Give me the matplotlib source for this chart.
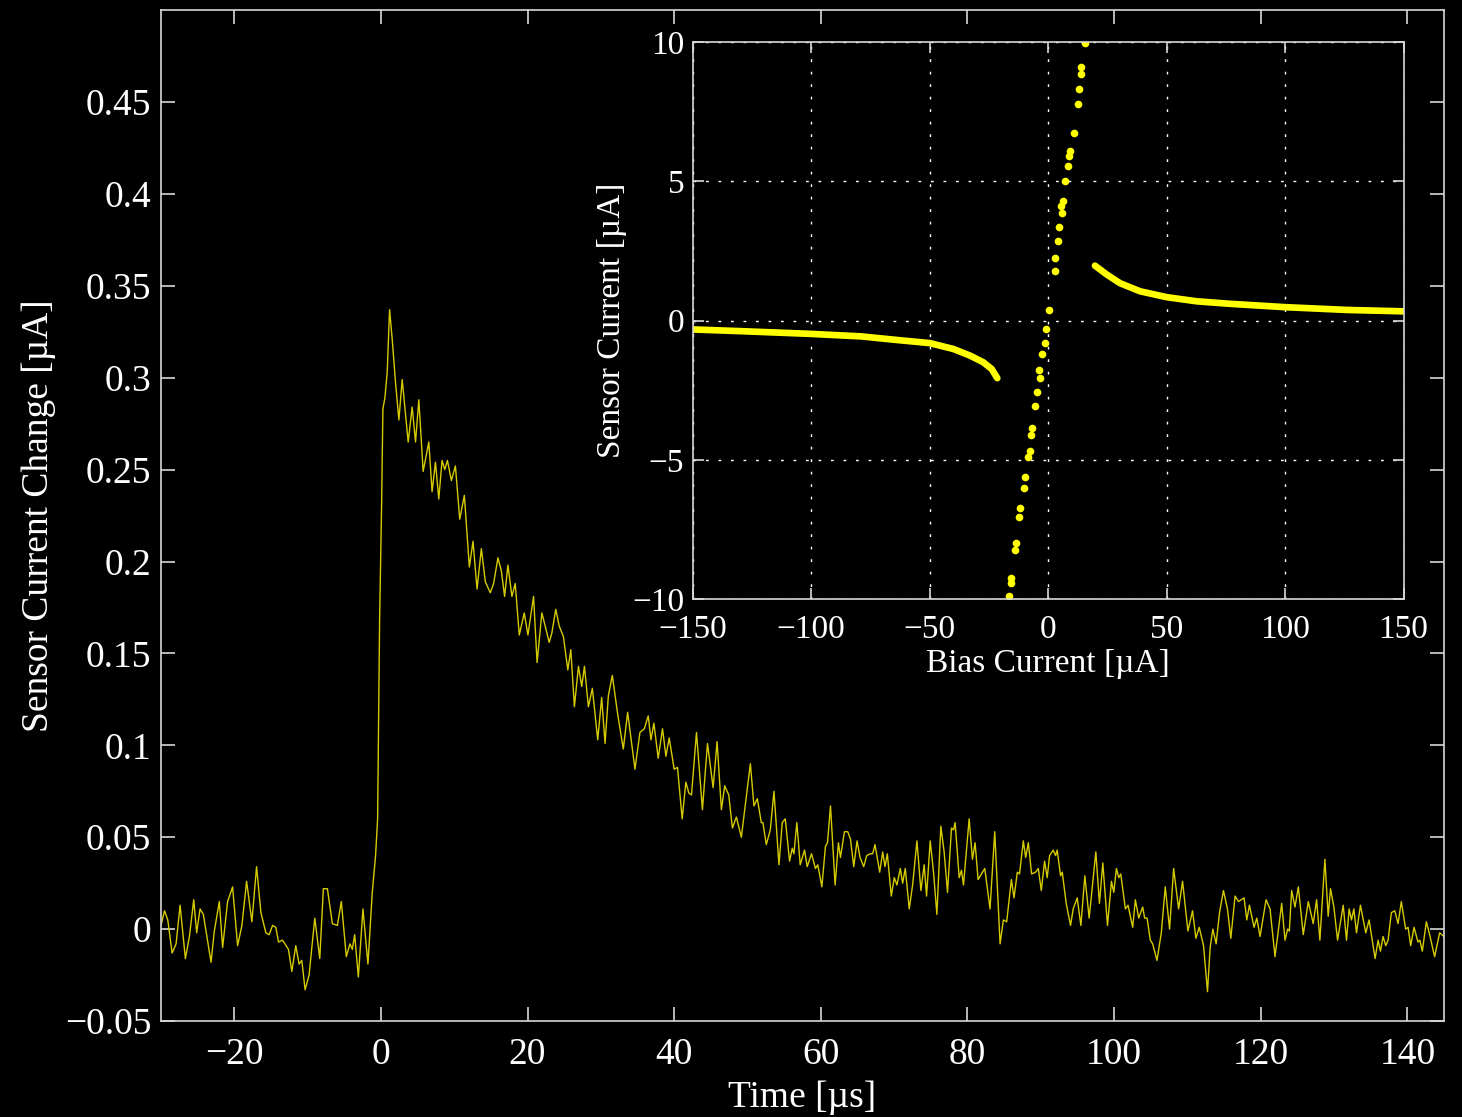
import matplotlib.pyplot as plt

plt.rcParams['font.family'] = ['Liberation Serif', 'DejaVu Serif']
plt.rcParams['axes.unicode_minus'] = True

# MAIN TRACE: time [us] and current change [uA]
time_us = [
    -30.0, -29.52, -29.07, -28.48, -27.94, -27.39, -26.67, -26.12, -25.53, -25.13,
    -24.67, -24.22, -23.17, -22.72, -22.04, -21.59, -20.91, -20.23, -19.55, -18.96,
    -18.32, -17.60, -16.96, -16.37, -15.69, -15.24, -14.78, -14.33, -13.97, -13.42,
    -12.61, -12.15, -11.61, -11.16, -10.79, -10.34, -9.80, -9.02, -8.34, -7.85,
    -7.30, -6.62, -5.94, -5.40, -4.72, -4.22, -3.90, -3.58, -3.08, -2.45,
    -1.77, -1.18, -0.73, -0.45, -0.18, 0.09, 0.27, 0.54, 0.86, 1.18,
    1.54, 2.00, 2.45, 2.90, 3.72, 4.26, 4.72, 5.17, 5.76, 6.53,
    6.98, 7.44, 7.89, 8.34, 8.71, 9.07, 9.61, 10.16, 10.75, 11.38,
    12.06, 12.56, 13.11, 13.70, 14.24, 14.92, 15.37, 15.96, 16.42, 16.87,
    17.32, 17.87, 18.32, 18.87, 19.55, 20.05, 20.82, 21.30, 21.95, 22.40,
    22.95, 23.31, 23.85, 24.31, 24.90, 25.49, 25.90, 26.39, 26.94, 27.39,
    27.76, 28.30, 28.84, 29.57, 30.11, 30.57, 31.02, 31.56, 32.29, 33.06,
    33.65, 34.65, 35.33, 35.92, 36.46, 36.83, 37.23, 37.82, 38.41, 38.87,
    39.32, 40.00, 40.45, 41.09, 41.59, 42.00, 42.36, 43.04, 43.85, 44.54,
    45.31, 45.85, 46.44, 46.89, 47.44, 47.94, 48.48, 49.16, 50.39, 50.88,
    51.34, 51.88, 52.10, 52.56, 53.11, 53.61, 54.29, 54.74, 55.15, 55.74,
    56.10, 56.33, 56.73, 57.19, 57.78, 58.14, 58.73, 59.27, 59.59, 60.14,
    60.63, 60.91, 61.32, 61.95, 62.40, 62.68, 63.22, 63.67, 64.04, 64.49,
    64.94, 65.35, 65.85, 66.26, 66.71, 67.07, 67.39, 68.03, 68.44, 68.75,
    69.07, 69.61, 70.02, 70.38, 70.84, 71.16, 71.52, 72.06, 72.52, 73.11,
    73.65, 74.10, 74.42, 74.92, 75.37, 75.83, 76.37, 76.82, 77.28, 77.82,
    78.10, 78.32, 78.87, 79.18, 79.46, 80.23, 80.68, 81.04, 81.45, 81.90,
    82.36, 83.08, 83.72, 84.45, 84.90, 85.35, 85.99, 86.35, 86.80, 87.10,
    87.62, 87.94, 88.30, 88.75, 89.30, 89.66, 90.07, 90.52, 90.88, 91.20,
    91.70, 92.02, 92.24, 92.70, 92.93, 93.47, 94.06, 94.42, 94.97, 95.47,
    96.01, 96.60, 97.51, 98.00, 98.46, 99.10, 99.64, 99.96, 100.32, 100.64,
    100.91, 101.54, 101.90, 102.54, 102.90, 103.36, 103.90, 104.17, 104.50, 104.94,
    105.26, 105.85, 106.44, 106.98, 107.57, 108.12, 108.80, 109.34, 110.07, 110.70,
    111.16, 111.61, 112.20, 112.74, 113.10, 113.47, 113.92, 114.38, 114.92, 115.46,
    115.92, 116.50, 116.96, 117.73, 118.10, 118.46, 119.09, 119.46, 119.91, 120.73,
    121.27, 121.95, 122.86, 123.31, 123.67, 123.90, 124.22, 124.67, 125.13, 125.80,
    126.49, 127.16, 127.62, 128.07, 128.75, 129.20, 129.52, 129.98, 130.48, 131.25,
    131.70, 132.06, 132.38, 132.70, 133.06, 133.60, 134.33, 134.78, 135.60, 136.01,
    136.33, 136.69, 137.05, 137.37, 137.82, 138.28, 138.73, 139.18, 139.77, 140.10,
    140.45, 140.91, 141.45, 141.70, 142.04, 142.59, 143.04, 143.72, 144.40, 145.00,
]
current_change = [
    0.002, 0.010, 0.005, -0.013, -0.008, 0.013, -0.016, -0.004, 0.016, -0.002,
    0.011, 0.008, -0.018, -0.001, 0.015, -0.010, 0.015, 0.023, -0.009, 0.002,
    0.026, 0.004, 0.034, 0.009, -0.002, -0.003, 0.002, 0.001, -0.007, -0.006,
    -0.011, -0.023, -0.009, -0.019, -0.017, -0.033, -0.025, 0.006, -0.016, 0.022,
    0.022, 0.003, 0.002, 0.015, -0.015, -0.008, -0.011, -0.003, -0.026, 0.011,
    -0.019, 0.020, 0.040, 0.060, 0.168, 0.230, 0.283, 0.289, 0.303, 0.337,
    0.321, 0.297, 0.277, 0.299, 0.265, 0.284, 0.265, 0.288, 0.249, 0.265,
    0.238, 0.254, 0.234, 0.255, 0.250, 0.255, 0.244, 0.252, 0.223, 0.236,
    0.197, 0.211, 0.185, 0.207, 0.189, 0.183, 0.188, 0.202, 0.195, 0.181,
    0.198, 0.181, 0.188, 0.160, 0.172, 0.160, 0.181, 0.145, 0.172, 0.165,
    0.156, 0.161, 0.174, 0.165, 0.159, 0.141, 0.152, 0.121, 0.143, 0.132,
    0.143, 0.121, 0.131, 0.103, 0.126, 0.101, 0.127, 0.138, 0.117, 0.098,
    0.118, 0.087, 0.107, 0.109, 0.116, 0.103, 0.112, 0.093, 0.109, 0.094,
    0.104, 0.087, 0.088, 0.060, 0.080, 0.074, 0.073, 0.107, 0.065, 0.101,
    0.077, 0.102, 0.065, 0.078, 0.073, 0.055, 0.061, 0.050, 0.090, 0.067,
    0.071, 0.058, 0.058, 0.046, 0.054, 0.075, 0.035, 0.058, 0.060, 0.037,
    0.044, 0.041, 0.058, 0.035, 0.043, 0.034, 0.041, 0.033, 0.035, 0.023,
    0.045, 0.047, 0.067, 0.024, 0.047, 0.039, 0.053, 0.053, 0.049, 0.034,
    0.048, 0.039, 0.034, 0.040, 0.041, 0.041, 0.046, 0.031, 0.042, 0.034,
    0.041, 0.018, 0.028, 0.024, 0.033, 0.025, 0.033, 0.011, 0.024, 0.048,
    0.021, 0.035, 0.018, 0.048, 0.031, 0.008, 0.056, 0.042, 0.020, 0.055,
    0.054, 0.058, 0.028, 0.032, 0.024, 0.060, 0.038, 0.047, 0.027, 0.030,
    0.033, 0.011, 0.053, -0.008, 0.005, 0.004, 0.027, 0.017, 0.031, 0.030,
    0.048, 0.039, 0.047, 0.030, 0.031, 0.033, 0.021, 0.037, 0.028, 0.040,
    0.043, 0.040, 0.043, 0.029, 0.031, 0.014, 0.002, 0.011, 0.017, 0.002,
    0.029, 0.006, 0.042, 0.014, 0.036, 0.002, 0.026, 0.020, 0.033, 0.028,
    0.030, 0.011, 0.013, 0.001, 0.016, 0.006, 0.012, 0.006, 0.006, -0.006,
    -0.008, -0.017, -0.002, 0.023, 0.000, 0.033, 0.011, 0.026, -0.001, 0.010,
    -0.005, 0.001, -0.009, -0.034, -0.010, 0.000, -0.008, 0.009, 0.021, 0.011,
    -0.005, 0.018, 0.015, 0.017, 0.005, 0.013, 0.001, 0.006, -0.004, 0.016,
    0.011, -0.015, 0.014, -0.006, 0.000, -0.001, 0.021, 0.012, 0.023, -0.003,
    0.015, 0.003, 0.016, -0.006, 0.038, 0.007, 0.022, 0.012, -0.006, 0.013,
    -0.006, 0.011, 0.005, 0.011, -0.002, 0.013, -0.002, 0.005, -0.016, -0.006,
    -0.012, -0.004, -0.009, -0.006, 0.009, 0.010, 0.003, 0.015, 0.000, 0.001,
    -0.009, 0.001, -0.007, -0.006, -0.012, 0.004, -0.003, -0.015, -0.002, -0.004,
]

main_xticks = [-20, 0, 20, 40, 60, 80, 100, 120, 140]
main_yticks = [-0.05, 0, 0.05, 0.1, 0.15, 0.2, 0.25, 0.3, 0.35, 0.4, 0.45]
main_ylabels = ["\u22120.05", "0", "0.05", "0.1", "0.15", "0.2", "0.25",
                "0.3", "0.35", "0.4", "0.45"]

# INSET: I-V curve, bias current vs sensor current [uA]
neg_bias = [-150, -130.2, -100, -78.8, -64.8, -50, -40, -32.9, -27.3, -23.8, -21.4]
neg_sensor = [-0.32, -0.38, -0.48, -0.57, -0.69, -0.81, -1.02, -1.26, -1.50, -1.74, -2.07]

pos_bias = [19.8, 24.8, 30.4, 38.8, 50, 62.7, 76.8, 100, 126.1, 150]
pos_sensor = [1.97, 1.65, 1.34, 1.05, 0.84, 0.69, 0.60, 0.48, 0.38, 0.33]

mid_bias = [15.8, 13.9, 13.7, 13.0, 12.5, 10.8, 9.4, 8.7, 8.5, 7.0,
            6.3, 5.6, 5.9, 4.5, 4.2, 3.1, 2.8, 0.3, -0.7, -1.1,
            -2.5, -3.9, -3.2, -4.6, -5.4, -6.8, -7.2, -7.7, -8.5, -9.6,
            -10.0, -12.0, -12.4, -13.5, -13.8, -15.5, -15.8, -16.6]
mid_sensor = [9.95, 9.12, 8.86, 8.31, 7.76, 6.74, 6.09, 5.89, 5.56, 5.0,
              4.28, 4.12, 3.86, 3.36, 2.84, 2.25, 1.77, 0.39, -0.29, -0.79,
              -1.20, -1.77, -2.05, -2.58, -3.08, -3.86, -4.12, -4.67, -4.91, -5.63,
              -6.02, -6.74, -7.07, -7.98, -8.25, -9.23, -9.42, -9.88]

inset_xticks = [-150, -100, -50, 0, 50, 100, 150]
inset_yticks = [-10, -5, 0, 5, 10]

FG = "white"
SPINE = "#d8d8d8"
TRACE = "#d6cb00"
DOTS = "#ffff00"

fig = plt.figure(figsize=(14.62, 11.17), dpi=100, facecolor="black")

# MAIN AXES
ax = fig.add_axes([0.1101, 0.0859, 0.8776, 0.9051])
ax.set_facecolor("black")
ax.plot(time_us, current_change, color=TRACE, lw=1.0)
ax.set_xlim(-30, 145)
ax.set_ylim(-0.05, 0.5)
ax.set_xticks(main_xticks)
ax.set_yticks(main_yticks, main_ylabels)
ax.tick_params(direction="in", length=10, width=1.2, colors=SPINE,
               labelcolor=FG, labelsize=27, pad=7,
               top=True, right=True)
ax.tick_params(axis="x", pad=12)
for s in ax.spines.values():
    s.set_color(SPINE)
    s.set_linewidth(1.2)
ax.set_xlabel("Time [\u00b5s]", color=FG, fontsize=27, labelpad=6)
ax.set_ylabel("Sensor Current Change [\u00b5A]", color=FG, fontsize=27, labelpad=6)

# INSET AXES
ins = fig.add_axes([0.4737, 0.4637, 0.4863, 0.4987])
ins.set_facecolor("black")
ins.plot(neg_bias, neg_sensor, color=DOTS, lw=4.8, solid_capstyle="round")
ins.plot(pos_bias, pos_sensor, color=DOTS, lw=4.8, solid_capstyle="round")
ins.plot(mid_bias, mid_sensor, "o", color=DOTS, ms=5.5, mec="none")
ins.set_xlim(-150, 150)
ins.set_ylim(-10, 10)
ins.set_xticks(inset_xticks)
ins.set_yticks(inset_yticks)
ins.grid(True, color=FG, lw=1.0, ls=(0, (2, 7)))
ins.tick_params(direction="in", length=8, width=1.2, colors=SPINE,
                labelcolor=FG, labelsize=24, pad=6,
                top=True, right=True)
ins.tick_params(axis="x", pad=11)
for s in ins.spines.values():
    s.set_color(SPINE)
    s.set_linewidth(1.2)
ins.set_xlabel("Bias Current [\u00b5A]", color=FG, fontsize=24, labelpad=3)
ins.set_ylabel("Sensor Current [\u00b5A]", color=FG, fontsize=24, labelpad=4)

fig.savefig("out.png", dpi=100, facecolor="black")
